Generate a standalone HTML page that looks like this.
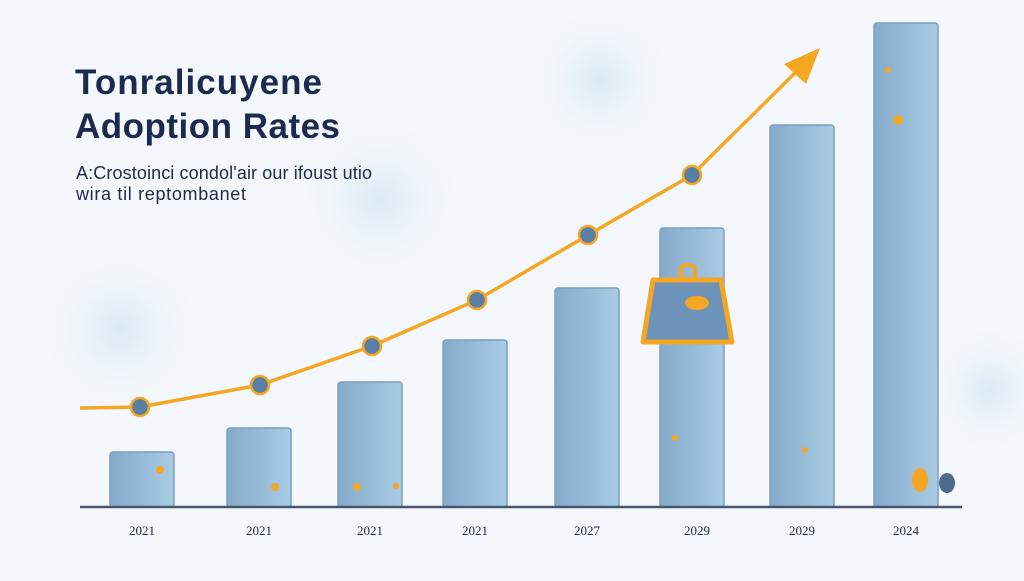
<!DOCTYPE html>
<html><head><meta charset="utf-8"><style>
body{margin:0;width:1024px;height:576px;overflow:hidden;background:#f3f7fb;font-family:"Liberation Sans",sans-serif}
</style></head><body>
<svg width="1024" height="576" viewBox="0 0 1024 576" xmlns="http://www.w3.org/2000/svg">
<defs>
<linearGradient id="bar" x1="0" x2="1" y1="0" y2="0">
<stop offset="0" stop-color="#86abcb"/><stop offset="0.6" stop-color="#98bed9"/><stop offset="1" stop-color="#a9cce3"/>
</linearGradient>
<radialGradient id="blob"><stop offset="0" stop-color="#dce9f5"/><stop offset="1" stop-color="#f3f7fb" stop-opacity="0"/></radialGradient>
</defs>
<rect width="1024" height="576" fill="#f4f8fc"/>
<circle cx="120" cy="330" r="90" fill="url(#blob)"/>
<circle cx="380" cy="200" r="90" fill="url(#blob)"/>
<circle cx="600" cy="80" r="80" fill="url(#blob)"/>
<circle cx="990" cy="390" r="70" fill="url(#blob)"/>
<text x="75" y="94" font-size="35" font-weight="bold" fill="#1b2a4e" textLength="247">Tonralicuyene</text>
<text x="75" y="138" font-size="35" font-weight="bold" fill="#1b2a4e" textLength="265">Adoption Rates</text>
<text x="76" y="179" font-size="18" fill="#1b2a4e" textLength="296">A:Crostoinci condol'air our ifoust utio</text>
<text x="76" y="200" font-size="18" fill="#1b2a4e" textLength="170">wira til reptombanet</text>
<g fill="url(#bar)" stroke="#7a9dbf" stroke-width="1.5">
<rect x="110" y="452" width="64" height="55" rx="3"/>
<rect x="227" y="428" width="64" height="79" rx="3"/>
<rect x="338" y="382" width="64" height="125" rx="3"/>
<rect x="443" y="340" width="64" height="167" rx="3"/>
<rect x="555" y="288" width="64" height="219" rx="3"/>
<rect x="660" y="228" width="64" height="279" rx="3"/>
<rect x="770" y="125" width="64" height="382" rx="3"/>
<rect x="874" y="23" width="64" height="484" rx="3"/>
</g>
<line x1="80" y1="507" x2="962" y2="507" stroke="#4a5670" stroke-width="2.5"/>
<g font-family="Liberation Serif,serif" font-size="13" fill="#1b2a4e" text-anchor="middle">
<text x="142" y="535">2021</text><text x="259" y="535">2021</text><text x="370" y="535">2021</text><text x="475" y="535">2021</text>
<text x="587" y="535">2027</text><text x="697" y="535">2029</text><text x="802" y="535">2029</text><text x="906" y="535">2024</text>
</g>
<polyline points="80,408 140,407 260,385 372,346 477,300 588,235 692,175 800,68" fill="none" stroke="#f5a623" stroke-width="3.5"/>
<polygon points="820,48 784,64 806,84" fill="#f5a623"/>
<g fill="#5a7fa6" stroke="#f5a623" stroke-width="2.5">
<circle cx="140" cy="407" r="9"/><circle cx="260" cy="385" r="9"/><circle cx="372" cy="346" r="9"/>
<circle cx="477" cy="300" r="9"/><circle cx="588" cy="235" r="9"/><circle cx="692" cy="175" r="9"/>
</g>
<path d="M653 280 L721 280 L732 342 L643 342 Z" fill="#6d93ba" stroke="#f5a623" stroke-width="5" stroke-linejoin="round"/>
<rect x="681" y="265" width="14" height="14" rx="4" fill="none" stroke="#f5a623" stroke-width="4"/>
<ellipse cx="697" cy="303" rx="12" ry="7" fill="#f5a623"/>
<ellipse cx="920" cy="480" rx="8" ry="12" fill="#f5a623"/>
<ellipse cx="947" cy="483" rx="8" ry="10" fill="#4d6b8f"/>
<circle cx="160" cy="470" r="4" fill="#f5a623"/><circle cx="275" cy="487" r="4" fill="#f5a623"/>
<circle cx="357" cy="487" r="4" fill="#f5a623"/><circle cx="396" cy="486" r="3" fill="#f5a623"/>
<circle cx="888" cy="70" r="3" fill="#f5a623"/><circle cx="898" cy="120" r="5" fill="#f5a623"/>
<circle cx="675" cy="438" r="3" fill="#f5a623"/><circle cx="805" cy="450" r="3" fill="#f5a623"/>
</svg>
</body></html>
